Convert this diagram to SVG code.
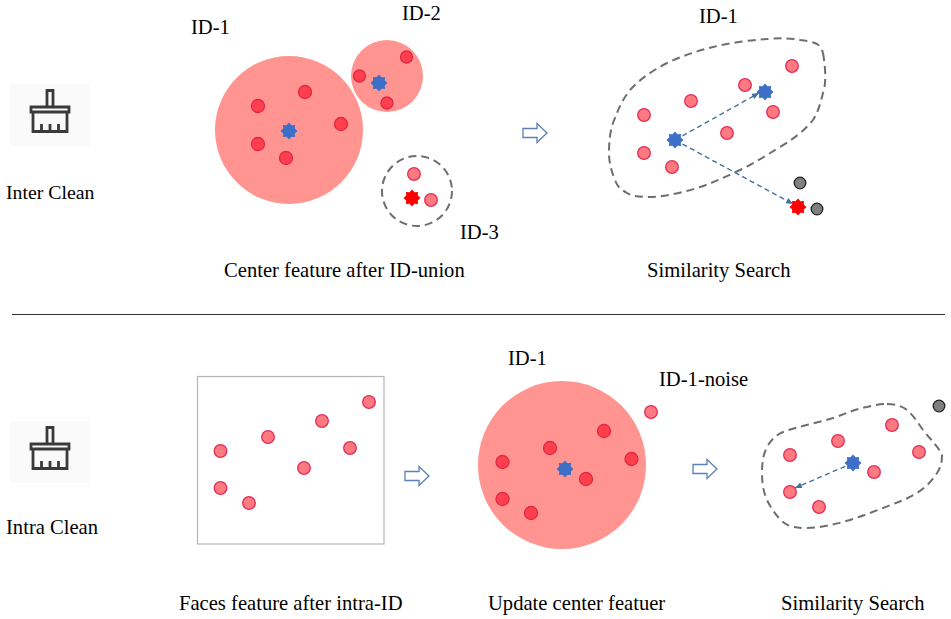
<svg xmlns="http://www.w3.org/2000/svg" width="951" height="619" viewBox="0 0 951 619">
<style>
text{font-family:"Liberation Serif","Times New Roman",serif;font-size:20.600px;fill:#000}
.big{fill:#ff9490}
.dot{fill:#ff3f4c;stroke:#e0284a;stroke-width:1.300}
.lite{fill:#ff7a80;stroke:#e32c56;stroke-width:1.300}
.gray{fill:#7f7f7f;stroke:#222;stroke-width:1.300}
.dash{fill:none;stroke:#6e6e6e;stroke-width:2;stroke-dasharray:8 5}
.link{fill:none;stroke:#41719c;stroke-width:1.400;stroke-dasharray:5 3.500}
.blue{fill:#3b6fc8}
.red{fill:#ff0000}
.hollow{fill:#fff;stroke:#5b7fb8;stroke-width:1.300}
.brush{fill:none;stroke:#3a3a3a;stroke-width:2.800}
</style>
<defs>
<marker id="tip" markerWidth="8" markerHeight="7" refX="7" refY="3" orient="auto" markerUnits="userSpaceOnUse"><path d="M0,0L7,3L0,6z" fill="#41719c"/></marker>
<polygon id="star" points="0,-8.500 2.500,-5.800 6,-6 5.800,-2.500 8.500,0 5.800,2.500 6,6 2.500,5.800 0,8.500 -2.500,5.800 -6,6 -5.800,2.500 -8.500,0 -5.800,-2.500 -6,-6 -2.500,-5.800"/>
<path id="block" d="M0,-4.500H14V-9.500L24,0L14,9.500V4.500H0z"/>
<g id="brush">
<rect x="-40" y="-31" width="80" height="62" fill="#fafafa" stroke="none"/>
<path class="brush" d="M-3,-8V-24.500H3V-8M-19,-8H19V-3H-19z"/>
<path class="brush" d="M-17,-3V16.500H17V-3M-8.500,16.500V9M0,16.500V9M8.500,16.500V9"/>
</g>
</defs>

<g id="inter-clean">
<use href="#brush" x="50" y="115"/>
<text x="6" y="199" style="font-size:19.800px">Inter Clean</text>
</g>
<g id="id1-cluster">
<circle class="big" cx="289" cy="130" r="74"/>
<circle class="dot" cx="258" cy="106" r="6.500"/><circle class="dot" cx="305" cy="92" r="6.500"/><circle class="dot" cx="341" cy="124" r="6.500"/><circle class="dot" cx="258" cy="144" r="6.500"/><circle class="dot" cx="286" cy="158" r="6.500"/>
<use href="#star" class="blue" x="289" y="131"/>
<text x="191" y="34">ID-1</text>
</g>
<g id="id2-cluster">
<circle class="big" cx="387" cy="76" r="36"/>
<circle class="dot" cx="406.500" cy="57" r="6"/><circle class="dot" cx="359.500" cy="76" r="6"/><circle class="dot" cx="387" cy="103" r="6"/>
<use href="#star" class="blue" x="379" y="83"/>
<text x="402" y="20">ID-2</text>
</g>
<g id="id3-cluster">
<circle class="dash" cx="417" cy="191" r="35"/>
<circle class="lite" cx="414" cy="174" r="6.300"/><circle class="lite" cx="431" cy="200" r="6.300"/>
<use href="#star" class="red" x="412" y="198"/>
<text x="460" y="239">ID-3</text>
</g>
<text id="label-center" x="224" y="277">Center feature after ID-union</text>
<g id="arrow-top"><use href="#block" class="hollow" x="523" y="133"/></g>

<g id="search-top">
<path class="dash" d="M823,53C826,70 826,85 823,93C820,105 818,112 813,120C805,130 795,138 780,147C765,156 755,163 740,170C725,177 715,182 700,187C685,192 668,196 653,197C642,197 633,197 627,193C620,189 617,186 615,180C611,170 609,162 609,153C609,142 610,132 613,123C618,110 622,100 630,90C640,79 652,71 667,63C682,56 697,51 713,47C730,43 750,40 767,39C780,38 792,38 800,40C808,41 813,42 817,44C820,46 822,49 823,53Z"/>
<circle class="lite" cx="792" cy="66" r="6.300"/><circle class="lite" cx="745" cy="85" r="6.300"/><circle class="lite" cx="773" cy="112" r="6.300"/><circle class="lite" cx="691" cy="101" r="6.300"/><circle class="lite" cx="644" cy="115" r="6.300"/><circle class="lite" cx="727" cy="133" r="6.300"/><circle class="lite" cx="644" cy="153" r="6.300"/><circle class="lite" cx="672" cy="167" r="6.300"/>
<circle class="gray" cx="800" cy="183" r="5.800"/><circle class="gray" cx="817" cy="209" r="5.800"/>
<text x="699" y="23">ID-1</text>
<text x="647" y="277">Similarity Search</text>
</g>
<g id="connectors">
<path class="link" marker-end="url(#tip)" d="M675,140L759,93"/>
<path class="link" marker-end="url(#tip)" d="M675,140L793,204"/>
<path class="link" marker-end="url(#tip)" d="M853,463L795,488"/>
</g>
<g id="stars-top">
<use href="#star" class="blue" x="765" y="92"/>
<use href="#star" class="blue" x="675" y="140"/>
<use href="#star" class="red" x="798" y="207"/>
</g>

<line id="divider" x1="12" y1="314.500" x2="945" y2="314.500" stroke="#333" stroke-width="1"/>

<g id="intra-clean">
<use href="#brush" x="50" y="452"/>
<text x="6" y="534">Intra Clean</text>
</g>
<g id="faces">
<rect x="197.500" y="376.500" width="186.500" height="167.500" fill="#fff" stroke="#b5b5b5" stroke-width="1.200"/>
<circle class="lite" cx="369" cy="402" r="6.300"/><circle class="lite" cx="322" cy="421" r="6.300"/><circle class="lite" cx="268" cy="437" r="6.300"/><circle class="lite" cx="220.500" cy="451" r="6.300"/><circle class="lite" cx="350" cy="448" r="6.300"/><circle class="lite" cx="304" cy="468" r="6.300"/><circle class="lite" cx="220.500" cy="488" r="6.300"/><circle class="lite" cx="249" cy="503" r="6.300"/>
<text x="179" y="610">Faces feature after intra-ID</text>
</g>
<g id="arrow-bottom-1"><use href="#block" class="hollow" x="405" y="476"/></g>
<g id="update-center">
<circle class="big" cx="562" cy="465" r="84"/>
<circle class="dot" cx="550" cy="448" r="6.500"/><circle class="dot" cx="604" cy="431" r="6.500"/><circle class="dot" cx="631.500" cy="459" r="6.500"/><circle class="dot" cx="586" cy="479" r="6.500"/><circle class="dot" cx="502.500" cy="462" r="6.500"/><circle class="dot" cx="502.500" cy="499" r="6.500"/><circle class="dot" cx="531" cy="513" r="6.500"/>
<use href="#star" class="blue" x="565" y="469"/>
<circle class="lite" cx="651" cy="412" r="6.300"/>
<text x="508" y="365">ID-1</text>
<text x="659" y="386">ID-1-noise</text>
<text x="488" y="610">Update center featuer</text>
</g>
<g id="arrow-bottom-2"><use href="#block" class="hollow" x="693" y="469"/></g>
<g id="search-bottom">
<path class="dash" d="M887,404C895,404 902,406 907,410C914,416 918,423 923,430C930,439 938,446 942,455C942,462 941,467 937,473C932,481 925,488 917,493C906,500 895,503 883,508C870,513 857,518 843,522C831,525 818,528 807,528C797,528 789,527 783,522C776,516 771,508 767,500C763,491 762,482 762,473C762,463 763,455 767,447C771,440 776,435 783,432C799,426 817,423 833,418C845,414 855,409 867,407C874,405 881,404 887,404Z"/>
<circle class="lite" cx="892" cy="425" r="6.300"/><circle class="lite" cx="919" cy="452" r="6.300"/><circle class="lite" cx="838" cy="441" r="6.300"/><circle class="lite" cx="790" cy="455" r="6.300"/><circle class="lite" cx="874" cy="472" r="6.300"/><circle class="lite" cx="790" cy="492" r="6.300"/><circle class="lite" cx="819" cy="507" r="6.300"/>
<circle class="gray" cx="939" cy="406" r="5.800"/>
<use href="#star" class="blue" x="853" y="463"/>
<text x="781" y="610">Similarity Search</text>
</g>
</svg>
